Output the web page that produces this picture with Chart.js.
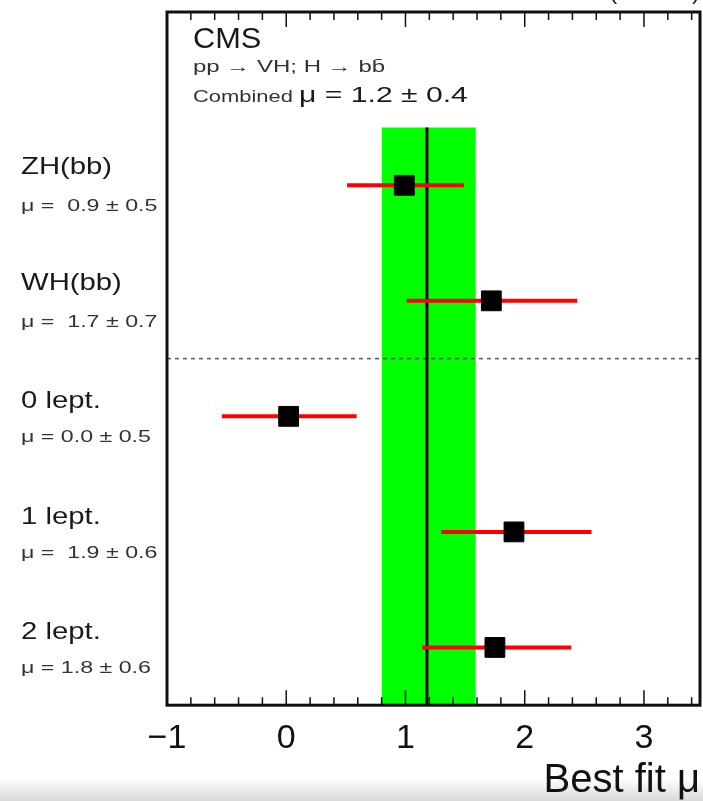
<!DOCTYPE html>
<html>
<head>
<meta charset="utf-8">
<script src="https://cdn.jsdelivr.net/npm/chart.js@4.4.1/dist/chart.umd.min.js"></script>
<style>
  html, body { margin: 0; padding: 0; }
  body {
    width: 703px; height: 801px; overflow: hidden;
    background: linear-gradient(to bottom, #fff 0px, #fff 778px, #d9d9d9 801px);
  }
  canvas { display: block; }
</style>
</head>
<body>
<canvas id="chart-area" width="703" height="801"></canvas>
<script>
// channels, top to bottom
var categories = ['ZH(bb)', 'WH(bb)', '0 lept.', '1 lept.', '2 lept.'];
var rows = [5, 4, 3, 2, 1];
var muBest = [0.99, 1.72, 0.02, 1.91, 1.75];
var muLow = [0.51, 1.01, -0.54, 1.30, 1.14];
var muHigh = [1.49, 2.44, 0.59, 2.56, 2.39];
var muLabels = ['\u03bc =  0.9 \u00b1 0.5', '\u03bc =  1.7 \u00b1 0.7', '\u03bc = 0.0 \u00b1 0.5', '\u03bc =  1.9 \u00b1 0.6', '\u03bc = 1.8 \u00b1 0.6'];

// combined fit
var combinedMu = 1.18;
var combinedLow = 0.80;
var combinedHigh = 1.59;
var combinedText = '1.2 \u00b1 0.4';

var xTicks = [-1, 0, 1, 2, 3];
var xMin = -1, xMax = 3.47;
var yMin = 0.5, yMax = 6.5;
var bandTop = 5.5;
var separatorY = 3.5;

var FONT = '"Liberation Sans", Arial, Helvetica, sans-serif';

function stretchText(ctx, txt, x, y, size, sx, color) {
  ctx.save();
  ctx.font = size + 'px ' + FONT;
  ctx.fillStyle = color || '#1a1a1a';
  ctx.textAlign = 'left';
  ctx.textBaseline = 'alphabetic';
  ctx.translate(x, y);
  ctx.scale(sx, 1);
  ctx.fillText(txt, 0, 0);
  var w = ctx.measureText(txt).width * sx;
  ctx.restore();
  return w;
}

var errorSets = categories.map(function (c, i) {
  return {
    type: 'line',
    label: c,
    data: [{x: muLow[i], y: rows[i]}, {x: muHigh[i], y: rows[i]}],
    borderColor: '#ff0000',
    borderWidth: 4,
    pointRadius: 0,
    fill: false,
    order: 2
  };
});

var framePlugin = {
  id: 'frame',
  afterDatasetsDraw: function (chart) {
    var ctx = chart.ctx, a = chart.chartArea, xs = chart.scales.x;
    ctx.save();
    ctx.strokeStyle = '#111';
    ctx.lineWidth = 1.5;
    for (var i = -5; i <= 17; i++) {
      var v = i / 5;
      if (v > xMax) break;
      var px = xs.getPixelForValue(v);
      var len = (i % 5 === 0) ? 15 : 8;
      ctx.beginPath();
      ctx.moveTo(px, a.bottom); ctx.lineTo(px, a.bottom - len);
      ctx.moveTo(px, a.top); ctx.lineTo(px, a.top + len);
      ctx.stroke();
    }
    ctx.lineWidth = 3;
    ctx.strokeRect(a.left, a.top, a.right - a.left, a.bottom - a.top);
    ctx.restore();
  },
  afterDraw: function (chart) {
    var ctx = chart.ctx, ys = chart.scales.y;
    categories.forEach(function (c, i) {
      var py = ys.getPixelForValue(rows[i]);
      var big = i < 2 ? -11 : -8;
      stretchText(ctx, c, 21, py + big, 24, 1.22, '#1a1a1a');
      stretchText(ctx, muLabels[i], 21, py + 26, 16, 1.45, '#333');
    });
    // header block
    stretchText(ctx, 'CMS', 193, 48, 29, 1.06, '#1a1a1a');
    stretchText(ctx, 'pp \u2192 VH; H \u2192 bb\u0304', 193, 72, 16, 1.5, '#333');
    var w = stretchText(ctx, 'Combined ', 193, 102, 17, 1.29, '#333');
    stretchText(ctx, '\u03bc = ' + combinedText, 193 + w, 102, 22, 1.37, '#1a1a1a');
    ctx.save();
    ctx.font = '24px ' + FONT;
    ctx.fillStyle = '#222';
    ctx.textAlign = 'right';
    ctx.fillText('35.9 fb\u207b\u00b9 (13 TeV)', 700, -1);
    ctx.restore();
  }
};

var config = {
  type: 'scatter',
  data: {
    datasets: [{
      type: 'scatter',
      label: 'best fit',
      data: categories.map(function (c, i) { return {x: muBest[i], y: rows[i]}; }),
      pointStyle: 'rect',
      pointRadius: 14,
      backgroundColor: '#000',
      borderColor: '#000',
      borderWidth: 1,
      order: 1
    }].concat(errorSets).concat([{
      type: 'line',
      label: 'combined',
      data: [{x: combinedMu, y: yMin}, {x: combinedMu, y: bandTop}],
      borderColor: '#000',
      borderWidth: 3,
      pointRadius: 0,
      fill: false,
      order: 3
    }, {
      type: 'line',
      label: 'separator',
      data: [{x: xMin, y: separatorY}, {x: xMax, y: separatorY}],
      borderColor: '#555',
      borderWidth: 1.5,
      borderDash: [4, 4],
      pointRadius: 0,
      fill: false,
      order: 4
    }, {
      type: 'line',
      label: 'combined band',
      data: [{x: combinedLow, y: bandTop}, {x: combinedHigh, y: bandTop}],
      borderWidth: 0,
      borderColor: 'rgba(0,0,0,0)',
      backgroundColor: '#00ff00',
      pointRadius: 0,
      fill: {value: yMin},
      order: 5
    }])
  },
  options: {
    responsive: false,
    animation: false,
    layout: { autoPadding: false, padding: { left: 167, right: 3, top: 12, bottom: 0 } },
    plugins: {
      legend: { display: false },
      tooltip: { enabled: false }
    },
    scales: {
      x: {
        type: 'linear',
        min: xMin,
        max: xMax,
        afterBuildTicks: function (scale) {
          scale.ticks = xTicks.map(function (v) { return {value: v}; });
        },
        grid: { display: false, drawTicks: false },
        border: { display: false },
        ticks: {
          padding: 13,
          maxRotation: 0,
          autoSkip: false,
          color: '#111',
          font: { family: FONT, size: 34, lineHeight: 1.2 },
          callback: function (v) { return v < 0 ? '\u2212' + Math.abs(v) : '' + v; }
        },
        title: {
          display: true,
          text: 'Best fit \u03bc',
          align: 'end',
          color: '#111',
          font: { family: FONT, size: 40, lineHeight: 0.45 },
          padding: { top: 0, bottom: 11 }
        }
      },
      y: {
        type: 'linear',
        min: yMin,
        max: yMax,
        display: false
      }
    }
  },
  plugins: [framePlugin]
};

window.onload = function () {
  var ctx = document.getElementById('chart-area').getContext('2d');
  window.myChart = new Chart(ctx, config);
};
</script>
</body>
</html>
